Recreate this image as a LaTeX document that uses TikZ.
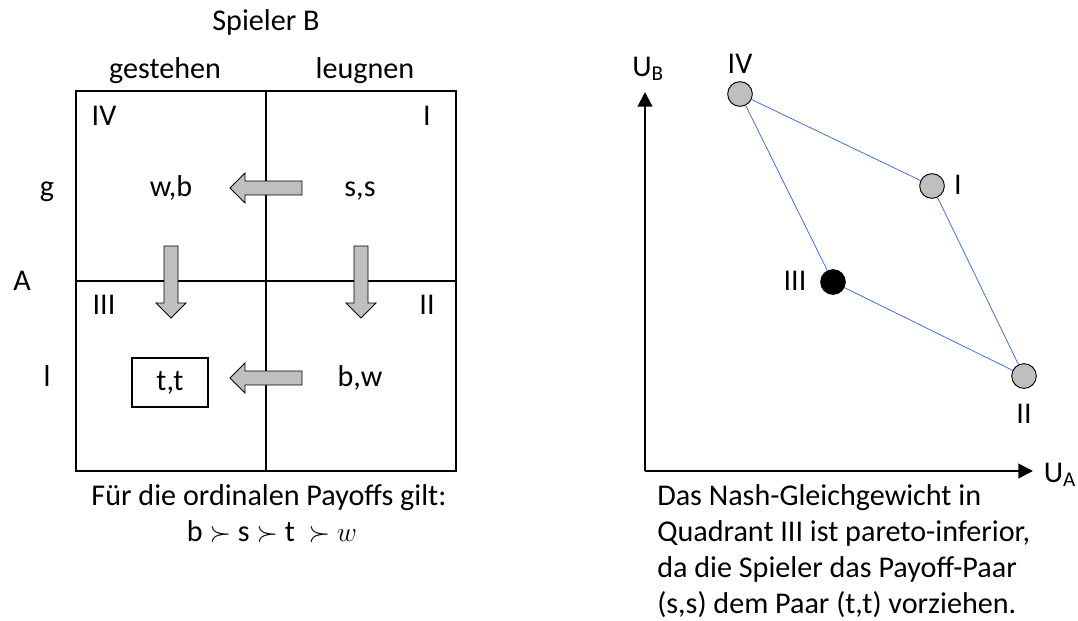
\documentclass[tikz,border=0pt]{standalone}
\usepackage{fontspec}
\setmainfont{Carlito}
\usetikzlibrary{arrows.meta,positioning}

\definecolor{pointgray}{RGB}{191,191,191}
\definecolor{linkblue}{RGB}{68,114,196}

\tikzset{
    lbl/.style={font=\fontsize{22.6}{27}\selectfont, inner sep=0pt, text height=0.72em, text depth=0.22em, yshift=-3.5pt},
    grid/.style={line width=1.7pt},
    blockarr/.style={fill=pointgray, draw=black, line width=0.6pt},
    pt/.style={circle, draw=black, line width=0.7pt, fill=pointgray, minimum size=18.5pt, inner sep=0pt},
    nash/.style={pt, fill=black},
    axis/.style={line width=1.6pt, -{Triangle[length=11pt,width=11pt]}},
    link/.style={linkblue, line width=0.6pt}
}

\begin{document}
\begin{tikzpicture}[x=0.75pt, y=-0.75pt]
    \useasboundingbox (0,0) rectangle (1078,621);

    % payoff matrix, units of pixels
    \pgfmathsetmacro{\L}{76}
    \pgfmathsetmacro{\R}{456}
    \pgfmathsetmacro{\T}{91}
    \pgfmathsetmacro{\B}{471}
    \draw[grid] (\L,\T) rectangle (\R,\B);
    \draw[grid] (266,\T) -- (266,\B);
    \draw[grid] (\L,281) -- (\R,281);

    \node[lbl] (playerB) at (266,22) {Spieler B};
    \node[lbl] (confB) at (165,70) {gestehen};
    \node[lbl] (denyB) at (365,70) {leugnen};
    \node[lbl] (confA) at (47,188) {g};
    \node[lbl] (playerA) at (22,282) {A};
    \node[lbl] (denyA) at (47,378) {l};

    \node[lbl] (q4) at (104,117) {IV};
    \node[lbl] (q1) at (427,117) {I};
    \node[lbl] (q3) at (104,306) {III};
    \node[lbl] (q2) at (427,306) {II};

    \node[lbl] (wb) at (171,188) {w,b};
    \node[lbl] (ss) at (360,188) {s,s};
    \node[lbl, yshift=0pt, text height=, text depth=, draw, line width=1.7pt,
          minimum width=57pt, minimum height=37pt] (tt) at (170,378) {t,t};
    \node[lbl] (bw) at (360,378) {b,w};

    % block arrows: tail at (x,y), turned by angle
    \foreach \x/\y/\a in {302/188/180, 302/378/180, 171/246/-90, 361/246/-90}
        \draw[blockarr, shift={(\x,\y)}, rotate=\a]
            (0,-7) -- (57,-7) -- (57,-15) -- (72,0) -- (57,15) -- (57,7) -- (0,7) -- cycle;

    \node[lbl] (note) at (269,497) {Für die ordinalen Payoffs gilt:};
    \node[lbl] (order) at (272,533) {b $\succ$ s $\succ$ t \ $\succ$ $w$};

    % payoff space
    \coordinate (O) at (645,471);
    \coordinate (yend) at (645,92);
    \coordinate (xend) at (1033,471);
    \draw[axis] (O) -- (yend);
    \draw[axis] (O) -- (xend);
    \node[lbl] (UB) at (648,68) {U\textsubscript{B}};
    \node[lbl] (UA) at (1060,474) {U\textsubscript{A}};

    \node[pt] (p4) at (740,94) {};
    \node[pt] (p1) at (932,186) {};
    \node[nash] (p3) at (833,282) {};
    \node[pt] (p2) at (1024,376) {};

    \draw[link] (p4) -- (p1);
    \draw[link] (p4) -- (p3);
    \draw[link] (p1) -- (p2);
    \draw[link] (p3) -- (p2);

    \node[lbl] at (740,65) {IV};
    \node[lbl] at (958,186) {I};
    \node[lbl] at (795,282) {III};
    \node[lbl] at (1024,415) {II};

    \node[lbl, text height=, text depth=, anchor=north west, align=left] (concl) at (657,480)
        {Das Nash-Gleichgewicht in\\Quadrant III ist pareto-inferior,\\da die Spieler das Payoff-Paar\\(s,s) dem Paar (t,t) vorziehen.};
\end{tikzpicture}
\end{document}
